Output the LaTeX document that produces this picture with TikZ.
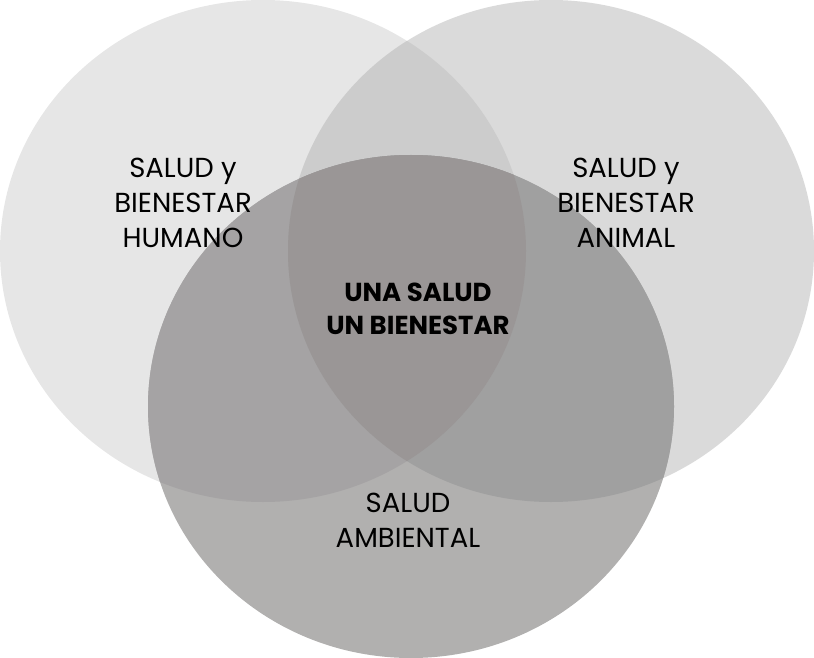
\documentclass[tikz,border=0pt]{standalone}
\usepackage{fontspec}
\setmainfont{Poppins}
\definecolor{cL}{HTML}{E6E6E6}
\definecolor{cR}{HTML}{DADADA}
\definecolor{cLR}{HTML}{CCCCCC}
\definecolor{cB}{HTML}{B1B0AF}
\definecolor{cBL}{HTML}{A5A3A4}
\definecolor{cBR}{HTML}{A0A0A0}
\definecolor{cLRB}{HTML}{9A9696}
\tikzset{
  lbl/.style={align=center, text=black, font=\fontsize{27.5}{35}\selectfont, inner sep=0pt},
  boldlbl/.style={align=center, text=black, font=\bfseries\fontsize{26}{33}\selectfont, inner sep=0pt}
}
\begin{document}
\begin{tikzpicture}[x=1pt,y=-1pt]
\useasboundingbox (0,0) rectangle (814,658);
\def\ellL{(263,251) ellipse [x radius=263, y radius=251]}
\def\ellR{(551,251) ellipse [x radius=263, y radius=251]}
\def\ellB{(411,406.5) ellipse [x radius=263, y radius=251.5]}
\fill[cL] \ellL;
\fill[cR] \ellR;
\begin{scope}
  \clip \ellL;
  \fill[cLR] \ellR;
\end{scope}
\fill[cB] \ellB;
\begin{scope}
  \clip \ellB;
  \fill[cBL] \ellL;
  \fill[cBR] \ellR;
  \clip \ellL;
  \fill[cLRB] \ellR;
\end{scope}
\node[lbl] (human) at (183,203) {SALUD y\\BIENESTAR\\HUMANO};
\node[lbl] (animal) at (626,203) {SALUD y\\BIENESTAR\\ANIMAL};
\node[lbl] (env) at (408,520) {SALUD\\AMBIENTAL};
\node[boldlbl] (one) at (418,309) {UNA SALUD\\UN BIENESTAR};
\end{tikzpicture}
\end{document}
